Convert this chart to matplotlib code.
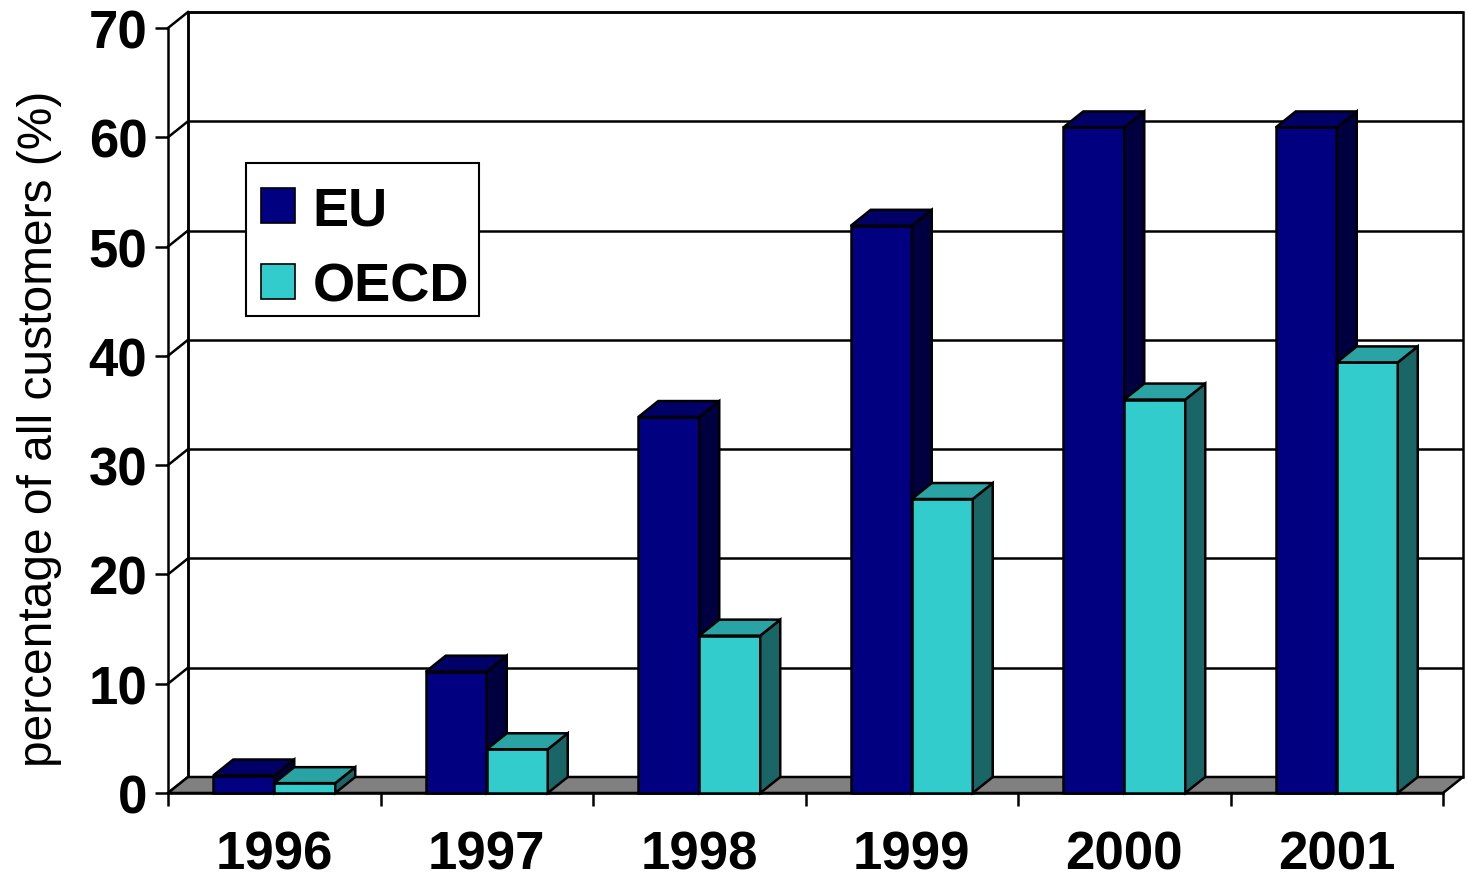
import matplotlib
matplotlib.use("Agg")
import matplotlib.pyplot as plt
from matplotlib.patches import Polygon, Patch, Rectangle

# ---- data ----
years = ["1996", "1997", "1998", "1999", "2000", "2001"]
eu = [1.6, 11.1, 34.4, 51.9, 60.9, 60.9]
oecd = [0.9, 4.0, 14.4, 26.9, 36.0, 39.4]
y_ticks = [0, 10, 20, 30, 40, 50, 60, 70]
y_label = "percentage of all customers (%)"
series_names = ["EU", "OECD"]

plt.rcParams['font.family'] = ['Liberation Sans', 'DejaVu Sans']

# face colours: front, top, side
EU_COLS = ("#000080", "#000066", "#000040")
OECD_COLS = ("#33cccc", "#29a3a3", "#1a6666")
EDGE_LW = 1.8

W, H = 1468, 879
fig = plt.figure(figsize=(W / 100, H / 100), dpi=100)
fig.patch.set_facecolor("white")

# front plane of the plot box (pixels)
x0, x1 = 168, 1443
yb, yt = 794, 29
ax = fig.add_axes([x0 / W, (H - yb) / H, (x1 - x0) / W, (yb - yt) / H])
n = len(years)
ymax = y_ticks[-1]
ax.set_xlim(-0.5, n - 0.5)
ax.set_ylim(0, ymax)
ax.patch.set_visible(False)

# depth offset of the 3-D box in data units
dx = 20 / ((x1 - x0) / n)
dy = 16 / ((yb - yt) / ymax)

left, right = -0.5, n - 0.5

# back wall
ax.add_patch(Polygon([(left + dx, dy), (right + dx, dy), (right + dx, ymax + dy),
                      (left + dx, ymax + dy)], closed=True, facecolor="white",
                     edgecolor="black", lw=EDGE_LW, zorder=0.5, clip_on=False))
# gridlines on back and left walls
for v in y_ticks:
    ax.plot([left + dx, right + dx], [v + dy, v + dy], color="black", lw=EDGE_LW,
            zorder=1, clip_on=False, solid_capstyle="butt")
    ax.plot([left, left + dx], [v, v + dy], color="black", lw=EDGE_LW,
            zorder=1, clip_on=False)
ax.plot([left + dx, left + dx], [dy, ymax + dy], color="black", lw=EDGE_LW,
        zorder=1, clip_on=False)

# floor
ax.add_patch(Polygon([(left, 0), (right, 0), (right + dx, dy), (left + dx, dy)],
                     closed=True, facecolor="#808080", edgecolor="black",
                     lw=EDGE_LW, zorder=1.5, clip_on=False))

bw = 61 / ((x1 - x0) / n)
xs = list(range(n))


def draw_series(offset, values, cols, z):
    pos = [x + offset for x in xs]
    ax.bar(pos, values, width=bw, color=cols[0], edgecolor="black",
           linewidth=EDGE_LW, zorder=z, clip_on=False)
    for p, v in zip(pos, values):
        l, r = p - bw / 2, p + bw / 2
        top = Polygon([(l, v), (r, v), (r + dx, v + dy), (l + dx, v + dy)], closed=True,
                      facecolor=cols[1], edgecolor="black", lw=EDGE_LW, zorder=z,
                      clip_on=False, joinstyle="miter")
        side = Polygon([(r, 0), (r + dx, dy), (r + dx, v + dy), (r, v)], closed=True,
                       facecolor=cols[2], edgecolor="black", lw=EDGE_LW, zorder=z,
                       clip_on=False, joinstyle="miter")
        ax.add_patch(side)
        ax.add_patch(top)


draw_series(-bw / 2, eu, EU_COLS, 3)
draw_series(bw / 2, oecd, OECD_COLS, 4)

# axes lines and ticks
for s in ("top", "right"):
    ax.spines[s].set_visible(False)
for s in ("left", "bottom"):
    ax.spines[s].set_linewidth(EDGE_LW)
    ax.spines[s].set_zorder(2)

ax.set_yticks(y_ticks)
ax.set_yticklabels([str(v) for v in y_ticks], fontsize=38, fontweight="bold")
ax.tick_params(axis="y", direction="out", length=9.4, width=EDGE_LW, pad=5.5)

ax.set_xticks([i - 0.5 for i in range(n + 1)])
ax.set_xticklabels([""] * (n + 1))
ax.set_xticks(xs, minor=True)
ax.set_xticklabels(years, minor=True, fontsize=38, fontweight="bold")
ax.tick_params(axis="x", which="major", direction="out", length=9, width=EDGE_LW)
ax.tick_params(axis="x", which="minor", length=0, pad=26)

ax.text(-0.101, 0.478, y_label, transform=ax.transAxes, rotation=90,
        ha="center", va="center", fontsize=34.5)

# legend: box drawn as a figure-pixel rectangle, entries from ax.legend
ax.add_patch(Rectangle((246 / W, 1 - 317 / H), 233 / W, 153 / H,
                       transform=fig.transFigure, facecolor="white",
                       edgecolor="black", lw=1.5, zorder=9, clip_on=False))
handles = [Patch(facecolor=EU_COLS[0], edgecolor="black", lw=1.2),
           Patch(facecolor=OECD_COLS[0], edgecolor="black", lw=1.2)]
leg = ax.legend(handles, series_names, loc="upper left",
                bbox_to_anchor=((249 - x0) / (x1 - x0), (yb - 174) / (yb - yt)),
                prop={"size": 39, "weight": "bold"}, frameon=False,
                handlelength=0.61, handleheight=0.61, handletextpad=0.33,
                borderpad=0.23, labelspacing=0.48, borderaxespad=0)
leg.set_zorder(10)

fig.savefig("out.png", dpi=100)
